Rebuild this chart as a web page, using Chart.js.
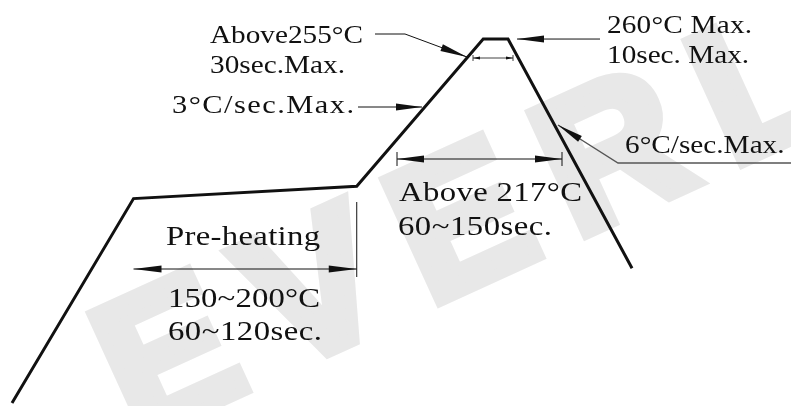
<!DOCTYPE html>
<html>
<head>
<meta charset="utf-8">
<script src="https://cdn.jsdelivr.net/npm/chart.js@4/dist/chart.umd.min.js"></script>
<style>
  html, body { margin: 0; padding: 0; background: #fff; }
  #wrap { width: 791px; height: 406px; }
</style>
</head>
<body>
<div id="wrap"><canvas id="reflowChart" width="791" height="406"></canvas></div>
<script>
// reflow profile (schematic)
const timeSec = [0, 49, 139, 190, 200, 250];
const tempC   = [25, 157, 165, 260, 260, 112];

// annotation texts
const noteTexts = [
  'Above255°C', '30sec.Max.', '3°C/sec.Max.',
  '260°C Max.', '10sec. Max.', '6°C/sec.Max.',
  'Above 217°C', '60~150sec.',
  'Pre-heating', '150~200°C', '60~120sec.'
];
const watermarkText = 'EVERLIGHT';

// layout for the texts: left x, baseline y, width, font size (px)
const noteLayout = [
  [210, 43, 153, 25], [210, 73, 135, 25], [172, 113, 182, 26],
  [607, 33, 145, 25], [607, 63, 141, 25], [625, 153, 155, 25],
  [399, 201, 183, 28], [398, 235, 154, 28],
  [166, 245, 154, 28], [168, 307, 152, 28], [168, 340, 154, 28]
];

const SERIF = '"Liberation Serif", "Times New Roman", Times, serif';

function arrowHead(ctx, tx, ty, fx, fy, len, hw) {
  const a = Math.atan2(fy - ty, fx - tx);
  const bx = tx + Math.cos(a) * len, by = ty + Math.sin(a) * len;
  const nx = -Math.sin(a) * hw, ny = Math.cos(a) * hw;
  ctx.beginPath();
  ctx.moveTo(tx, ty);
  ctx.lineTo(bx + nx, by + ny);
  ctx.lineTo(bx - nx, by - ny);
  ctx.closePath();
  ctx.fill();
}

function line(ctx, pts, w, color) {
  ctx.save();
  ctx.lineWidth = w;
  ctx.strokeStyle = color || '#111';
  ctx.beginPath();
  ctx.moveTo(pts[0][0], pts[0][1]);
  for (let i = 1; i < pts.length; i++) ctx.lineTo(pts[i][0], pts[i][1]);
  ctx.stroke();
  ctx.restore();
}

// heavy grey watermark behind the curve
const watermark = {
  id: 'watermark',
  beforeDatasetsDraw(chart) {
    const ctx = chart.ctx;
    ctx.save();
    ctx.translate(136, 440);
    ctx.rotate(-24.6 * Math.PI / 180);
    ctx.font = 'bold 192px "Liberation Sans"';
    ctx.fillStyle = '#e8e8e8';
    ctx.strokeStyle = '#e8e8e8';
    ctx.lineWidth = 12;
    ctx.lineJoin = 'miter';
    ctx.letterSpacing = '33px';
    ctx.fillText(watermarkText, 0, 0);
    ctx.strokeText(watermarkText, 0, 0);
    ctx.restore();
  }
};

const notes = {
  id: 'notes',
  afterDatasetsDraw(chart) {
    const ctx = chart.ctx;
    const xs = chart.scales.x, ys = chart.scales.y;
    const px = i => xs.getPixelForValue(timeSec[i]);
    const py = i => ys.getPixelForValue(tempC[i]);
    ctx.save();
    ctx.fillStyle = '#111';

    // texts: widened glyphs plus a little tracking, fitted to the drawing
    noteTexts.forEach((t, i) => {
      const [x, y, w, size] = noteLayout[i];
      const sx = 1.17;
      ctx.font = size + 'px ' + SERIF;
      ctx.letterSpacing = '0px';
      const m = ctx.measureText(t).width;
      const gap = Math.max(0, (w / sx - m) / (t.length - 1));
      ctx.save();
      ctx.translate(x, y);
      ctx.scale(sx, 1);
      ctx.letterSpacing = gap.toFixed(2) + 'px';
      ctx.fillText(t, 0, 0);
      ctx.restore();
    });
    ctx.letterSpacing = '0px';

    // pre-heating span
    const preY = 269;
    line(ctx, [[px(1), preY], [px(2), preY]], 1);
    arrowHead(ctx, px(1), preY, px(2), preY, 28, 3.5);
    arrowHead(ctx, px(2), preY, px(1), preY, 28, 3.5);
    line(ctx, [[px(2), 202], [px(2), 277]], 1);

    // above 217 span
    const a0 = 397, a1 = 562, aY = 159;
    line(ctx, [[a0, aY], [a1, aY]], 1);
    line(ctx, [[a0, aY - 7], [a0, aY + 7]], 1);
    line(ctx, [[a1, aY - 7], [a1, aY + 7]], 1);
    arrowHead(ctx, a0, aY, a1, aY, 27, 3.5);
    arrowHead(ctx, a1, aY, a0, aY, 27, 3.5);

    // above 255 small span
    const s0 = 473, s1 = 513, sY = 58;
    line(ctx, [[s0, sY], [s1, sY]], 0.8);
    line(ctx, [[s0, sY - 3], [s0, sY + 3]], 0.8);
    line(ctx, [[s1, sY - 3], [s1, sY + 3]], 0.8);
    arrowHead(ctx, s0, sY, s1, sY, 7, 1.5);
    arrowHead(ctx, s1, sY, s0, sY, 7, 1.5);

    // leaders
    line(ctx, [[375, 34], [405, 34], [467, 57]], 1);
    arrowHead(ctx, 467, 57, 405, 34, 27, 3.5);

    line(ctx, [[358, 107], [422, 107]], 1);
    arrowHead(ctx, 422, 107, 358, 107, 26, 3.5);

    line(ctx, [[600, py(4)], [px(4) + 9, py(4)]], 1);
    arrowHead(ctx, px(4) + 9, py(4), 600, py(4), 27, 3.5);

    line(ctx, [[791, 163], [618, 163], [558, 125]], 1.4, '#555');
    arrowHead(ctx, 558, 125, 618, 163, 26, 3.5);

    ctx.restore();
  }
};

const ctx = document.getElementById('reflowChart').getContext('2d');
new Chart(ctx, {
  type: 'line',
  data: {
    datasets: [{
      data: timeSec.map((t, i) => ({ x: t, y: tempC[i] })),
      borderColor: '#111',
      borderWidth: 3,
      borderJoinStyle: 'miter',
      pointRadius: 0,
      tension: 0,
      fill: false
    }]
  },
  options: {
    responsive: false,
    animation: false,
    devicePixelRatio: 1,
    layout: { padding: 0 },
    plugins: { legend: { display: false }, tooltip: { enabled: false } },
    scales: {
      x: { type: 'linear', display: false, min: -4.84, max: 314.1 },
      y: { type: 'linear', display: false, min: 23.1, max: 285.2 }
    }
  },
  plugins: [watermark, notes]
});
</script>
</body>
</html>
